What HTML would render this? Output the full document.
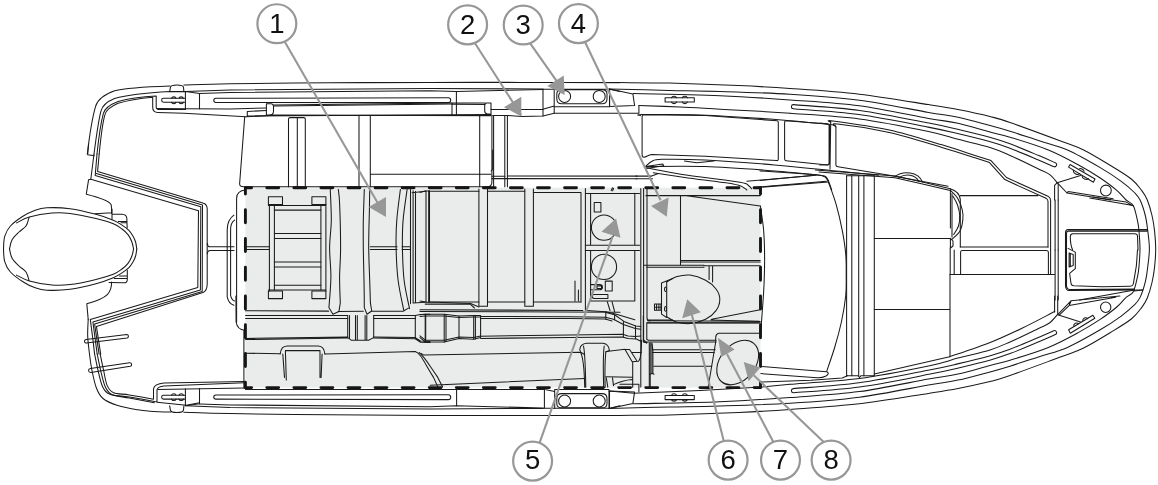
<!DOCTYPE html>
<html><head><meta charset="utf-8"><title>Boat layout</title>
<style>
html,body{margin:0;padding:0;background:#fff;}
svg{display:block;will-change:transform;}
.l{fill:none;stroke:#1a1a1a;stroke-width:1.05;stroke-linecap:round;stroke-linejoin:round;}
.so{fill:none;stroke:#1a1a1a;stroke-width:5.2;stroke-linecap:round;}
.si{fill:none;stroke:#fff;stroke-width:3.1;stroke-linecap:round;}
.d{fill:none;stroke:#151515;stroke-width:2.9;stroke-linecap:round;}
.c{fill:#fff;stroke:#979797;stroke-width:2.2;}
.ld{fill:none;stroke:#979797;stroke-width:2.1;}
.ah{fill:#979797;stroke:none;}
text{font-family:"Liberation Sans",sans-serif;font-size:27.5px;fill:#111;text-anchor:middle;}
</style></head>
<body>
<svg width="1158" height="485" viewBox="0 0 1158 485">
<!-- ZONE -->
<rect x="245.4" y="187.7" width="515.1" height="199.9" fill="#eaecec"/>
<!-- HULL -->
<g id="hull">
<path class="l" d="M3.5,249C3.7,246.9 3.5,240.2 4.7,236.4C5.9,232.6 7.4,229.3 10.4,226C13.4,222.7 18.5,219.1 22.5,216.5C26.5,213.9 30.6,211.8 34.6,210.4C38.6,209 40.9,208.1 46.8,207.8C52.7,207.5 61.8,207.6 70,208.7C78.2,209.8 88.8,212.4 96,214.3C103.2,216.2 109,218.5 113.3,220.3C117.6,222.1 119.4,223.4 122,225.1C124.6,226.8 127,228.4 128.9,230.3C130.8,232.2 132.1,234.5 133.2,236.4C134.3,238.3 135,239.9 135.6,242C136.2,244.1 136.6,247.8 136.8,249"/>
<path class="l" d="M3.5,249C3.7,251.1 3.5,257.8 4.7,261.6C5.9,265.4 7.4,268.7 10.4,272C13.4,275.3 18.5,278.9 22.5,281.5C26.5,284.1 30.6,286.2 34.6,287.6C38.6,289 40.9,289.9 46.8,290.2C52.7,290.5 61.8,290.4 70,289.3C78.2,288.2 88.8,285.6 96,283.7C103.2,281.8 109,279.5 113.3,277.7C117.6,275.9 119.4,274.6 122,272.9C124.6,271.2 127,269.6 128.9,267.7C130.8,265.8 132.1,263.5 133.2,261.6C134.3,259.7 135,258.1 135.6,256C136.2,253.9 136.6,250.2 136.8,249"/>
<path class="l" d="M16.5,222.9C18.6,221.9 23.5,218.7 29.4,217C35.3,215.3 45.1,213.6 51.9,213C58.7,212.4 62.6,212.5 70,213.4C77.3,214.3 88.8,216.9 96,218.6C103.2,220.3 109,222.1 113.3,223.8C117.6,225.5 119.5,227.2 122,229C124.5,230.8 126.3,232.4 128,234.6C129.7,236.8 131,239.6 131.9,242C132.8,244.4 133.3,247.8 133.6,249"/>
<path class="l" d="M16.5,275.1C18.6,276.1 23.5,279.3 29.4,281C35.3,282.7 45.1,284.4 51.9,285C58.7,285.6 62.6,285.5 70,284.6C77.3,283.7 88.8,281.1 96,279.4C103.2,277.7 109,275.9 113.3,274.2C117.6,272.5 119.5,270.8 122,269C124.5,267.2 126.3,265.6 128,263.4C129.7,261.2 131,258.4 131.9,256C132.8,253.6 133.3,250.2 133.6,249"/>
<path class="l" d="M29.1,217.3C28.6,218.8 27.7,223.6 26,226C24.3,228.4 21.3,229.7 19,232C16.7,234.3 13.7,237 12.1,239.8C10.5,242.6 9.9,247.5 9.5,249"/>
<path class="l" d="M29.1,280.7C28.6,279.2 27.7,274.4 26,272C24.3,269.6 21.3,268.3 19,266C16.7,263.7 13.7,261 12.1,258.2C10.5,255.4 9.9,250.5 9.5,249"/>
<path class="l" d="M95.1,213.7L112,212.8M112,209L112,219.3M112.9,214.3L122,214.3C125.5,214.6 126.7,216 126.8,218.2L127.2,227.7M118.5,221.4L127.1,221.6M121,222.8L127.1,222.8"/>
<path class="l" d="M127.3,270.2L127.3,279.4C127.3,281.6 126.1,282.8 123.8,282.8L109.1,282.5M119.5,275.9L127.3,275.9M114.3,278.5L127.3,278.5"/>
<path class="l" d="M87.3,154C89.5,135.8 93,115 95.6,106.4C97.3,100.3 102.5,95.1 114.6,90.8C125,88.2 149.3,86.8 170,86.1"/>
<path class="l" d="M169.7,91.6L170.4,87.3C170.7,85.6 172.6,84.9 177,84.9C181.3,84.9 183.2,85.6 183.5,87.3L183.9,91.6"/>
<path class="l" d="M169.7,405.8L170.4,410.1C170.7,411.8 172.6,412.5 177,412.5C181.3,412.5 183.2,411.8 183.5,410.1L183.9,405.8"/>
<path class="l" d="M94,154C95.9,139.3 98.2,122 100.8,111.6C102.2,105.5 106,102 114.6,98.6C125,95.6 145.8,92.9 170,91.6L185.6,91.6"/>
<path class="l" d="M97,154C98.5,139.3 101,122 103.4,113.3C104.6,109 107.7,105.5 118.1,101.5C128.5,98.6 142.3,96.8 156.2,96L156.2,107.2C156.2,109 157.1,109.5 159.7,109.5L185.6,109.5"/>
<path class="l" d="M99.2,154C100.6,139.3 102.7,122 105.1,114.2C106,110.7 109.4,107.2 118.1,103.3C128.5,100 142.3,98.1 152.7,97.2L152.7,107.2C152.7,110.7 154.5,112.4 157.9,112.4L183.9,113.3L246.2,116.8"/>
<path class="l" d="M88.6,144L87.7,154.7L94.3,155.8"/>
<path class="l" d="M90.8,179.2L88.6,179.7L86.3,194.2C101.6,198 109.4,201.2 111.1,204.6C111.8,207.2 111.6,210.7 111.6,213.3"/>
<path class="l" d="M94,154L90.8,179.2L198.5,210.7L197.8,287.4L90.3,319.4L92.9,339.4L94.6,354.1"/>
<path class="l" d="M97,154L95.2,175.5L200.8,206.7L200.4,290L92.9,322L97.2,354.1"/>
<path class="l" d="M96.4,173.4L202.5,205L202.2,291.6L94.6,324.1L99.1,354.1"/>
<path class="l" d="M99.2,154L97.6,171.4L202.9,202.9C206.3,203.8 207.2,205.5 207.2,208.9L207.2,283.9C207.2,287.4 206.3,290.9 202.9,292.6L96.4,326.4L100.7,354.1"/>
<path class="l" d="M207.2,243.6C207.5,245.8 208.2,246.8 210,246.8L234,246.8M207.2,253.6C207.5,251.4 208.2,250.4 210,250.4L234,250.4"/>
<path class="l" d="M86,339.6L126.7,334.4C128.9,334.4 128.9,337.5 127.2,337.9L86.3,343.1C83.9,343.1 83.9,340 86,339.6Z"/>
<path class="l" d="M183.9,85C191.6,84.8 205.7,84.2 230,83.8C254.3,83.4 296.7,83 330,82.8C363.3,82.6 398.3,82.5 430,82.4C461.7,82.3 488.3,82.4 520,82.4C551.7,82.4 603.3,82.6 620,82.6"/>
<path class="l" d="M183.9,412.2C191.6,412.4 205.7,413.2 230,413.6C254.3,414 296.7,414.5 330,414.8C363.3,415.1 398.3,415.3 430,415.4C461.7,415.5 488.3,415.5 520,415.5C551.7,415.5 603.3,415.4 620,415.4"/>
<path class="l" d="M185.6,91.6L230,89.9L430,88.5L543,89"/>
<path class="l" d="M185.6,405.8L230,407.5L430,408.9L543,408.4"/>
<path class="l" d="M185.4,91.6L185.4,108.6M185.6,91.6L199.5,93.6L199.5,108.8"/>
<path class="l" d="M185.4,405.8L185.4,388.8M185.6,405.8L199.5,403.8L199.5,388.6"/>
<path class="l" d="M199.5,93.4L230,92.5L430,90.7L456.4,91.6L543,89.4"/>
<path class="l" d="M199.5,404L230,404.9L430,406.7L456.4,405.8L543,408"/>
<path class="l" d="M163.5,98.3L184.8,98.3M184.8,102.2L163.5,102.2C161,102.2 161,98.3 163.5,98.3"/>
<path class="l" d="M163.5,399.1L184.8,399.1M184.8,395.2L163.5,395.2C161,395.2 161,399.1 163.5,399.1"/>
<path class="l" d="M171.6,98.3C172,96.4 175.6,96.4 176,98.3M179,98.3C179.4,96.4 183,96.4 183.4,98.3M171.6,102.2C172,104.2 175.6,104.2 176,102.2M179,102.2C179.4,104.2 183,104.2 183.4,102.2"/>
<path class="l" d="M171.6,399.1C172,401 175.6,401 176,399.1M179,399.1C179.4,401 183,401 183.4,399.1M171.6,395.2C172,393.2 175.6,393.2 176,395.2M179,395.2C179.4,393.2 183,393.2 183.4,395.2"/>
<path class="l" d="M216,98.3L448.3,97.8C451.5,97.8 451.5,102.6 448.3,102.6L216,102.4C213,102.4 213,98.3 216,98.3Z"/>
<path class="l" d="M216,399.1L448.3,399.6C451.5,399.6 451.5,394.8 448.3,394.8L216,395C213,395 213,399.1 216,399.1Z"/>
<path class="l" d="M157,108.6L185,108.7L230,108.9L266.4,108"/>
<path class="l" d="M266.4,110.4L247.3,111.5L247.3,116"/>
<path class="l" d="M246.2,116.8L270,115.6"/>
<path class="l" d="M266.4,103.7L271,103.7C273,103.7 273.5,105 273.5,107L273.5,111C273.5,113.5 272,115 270,115L266.4,115Z"/>
<path class="l" d="M273.5,104.9L452,102.9L485,102.9M452,104.3L485,104.6"/>
<path class="l" d="M273.5,105.9L452,104.1"/>
<path class="l" d="M247.3,115.9L491,114.4M270,115L491,115.6"/>
<path class="l" d="M491,102.9L486.5,102.9C485,102.9 484.7,104 484.7,105.5L484.7,111C484.7,113 485.5,113.6 487,113.8L491,114.2Z"/>
<path class="l" d="M456.4,91.6L456.4,115M452,102.9L452,115"/>
<path class="l" d="M491,109.5L543,109.5M492.7,115.4L506.6,115.4L522.2,116.4L543,115.9L554.2,113.3L620,113.3"/>
<path class="l" d="M543,89.4L543,115.9M543.8,109L554.2,106M554.2,89L554.2,113.3M554.2,106.4L609.6,106.7M609.6,89L609.6,106.7L554.2,106.4"/>
<path class="l" d="M543,89.2L609.6,89.2L620,91.6"/>
<path class="l" d="M543,408.2L609.6,408.2L620,405.8"/>
<path class="l" d="M561.8,89.6L602,89.6C605.5,89.6 607,91.5 607,94L607,99C607,102 605.5,103.8 602,103.8L561.8,103.8C558.3,103.8 556.8,102 556.8,99L556.8,94C556.8,91.5 558.3,89.6 561.8,89.6Z"/>
<path class="l" d="M561.8,407.8L602,407.8C605.5,407.8 607,405.9 607,403.4L607,398.4C607,395.4 605.5,393.6 602,393.6L561.8,393.6C558.3,393.6 556.8,395.4 556.8,398.4L556.8,403.4C556.8,405.9 558.3,407.8 561.8,407.8Z"/>
<circle class="l" cx="564.6" cy="96.4" r="6"/>
<circle class="l" cx="564.6" cy="401" r="6"/>
<circle class="l" cx="599.2" cy="96.4" r="6"/>
<circle class="l" cx="599.2" cy="401" r="6"/>
<path class="l" d="M244.7,116.7L239.6,184C239.8,186 241,186.7 243.5,186.7L491,186.7"/>
<path class="l" d="M288.5,186.7L288.5,119C288.5,118 289.2,117.6 290.2,117.6L303.8,117.6C304.8,117.6 305.3,118 305.3,119L305.3,186.7M297.3,117.6L297.3,186.7"/>
<path class="l" d="M359,115.6L359,186.7M370.3,115.6L370.3,186.7M370.3,174.2L479.7,174.2"/>
<path class="l" d="M479.7,115.6L479.7,186.7M491.9,115.4L491.9,182C491.9,185 490,186.7 487,186.7M493.6,115.4L493.6,186.7M504.8,115.4L504.8,186.7M507.4,115.4L507.4,186.7"/>
<path class="l" d="M245.6,190.1C238.9,190.7 236.6,193.4 236.6,198.4L236.6,322"/>
<path class="l" d="M233.9,215.1C228.9,218.5 227.2,223.5 227.2,230.1L227.2,296.9C228.3,302 230.6,304.3 233.9,305.3M234.6,220.1C231.6,221.8 230.6,225.1 230.6,230.1L230.6,295.3C231.3,298.6 232.3,300.3 234.6,301"/>
<path class="l" d="M245,246.7L269.4,246.7M245,249.4L269.4,249.4M370.4,246.7L397.1,246.7M370.4,249.4L397.1,249.4M402.1,246.7L410.5,246.7M402.1,249.4L410.5,249.4"/>
<path class="l" d="M268.4,196.7L282.5,196.7L282.5,204.4L268.4,204.4ZM311.9,196.7L325.9,196.7L325.9,204.4L311.9,204.4ZM268.4,290.9L282.5,290.9L282.5,298.6L268.4,298.6ZM311.9,290.9L325.9,290.9L325.9,298.6L311.9,298.6Z"/>
<path class="l" d="M269.4,204.4L269.4,290.9M325.9,204.4L325.9,290.9M274.4,205.4L274.4,290.2M320.9,205.4L320.9,290.2M268.4,205.4L325.9,205.4M268.4,289.9L325.9,289.9"/>
<path class="l" d="M274.4,210.1L320.9,210.1M274.4,233.5L320.9,233.5M274.4,238.5L320.9,238.5M274.4,261.9L320.9,261.9M274.4,266.9L320.9,266.9M274.4,285.2L320.9,285.2"/>
<path class="l" d="M330.3,189.4C330.4,194.5 331.4,210.4 331.3,220.1C331.2,229.8 329.7,238 329.6,247.5C329.5,256.9 331,266.9 330.9,276.9C330.8,286.9 329.3,302.5 328.9,307.6L332.9,314.3L338.9,311.6L340.3,302.9C340.2,298.6 339.5,286.1 339.6,276.9C339.7,267.6 340.6,259.8 340.6,247.5C340.6,235.2 340,213.1 339.6,203.4C339.2,193.7 338.5,191.7 338.3,189.4"/>
<path class="l" d="M364.3,189.4C364.2,194.5 363.5,210.4 363.3,220.1C363.2,229.8 363.2,237.5 363.3,247.5C363.4,257.5 363.8,270.2 364,280.2C364.2,290.2 364.3,303 364.3,307.6L367,314.3L371.7,311L370.4,302.9C370.3,299.2 370,289.5 369.7,280.2C369.4,271 368.8,259.2 368.7,247.5C368.6,235.8 369.2,219.8 369.4,210.1C369.5,200.4 369.6,192.8 369.7,189.4"/>
<path class="l" d="M400.4,189.4C399.8,194.5 397.5,210.4 396.8,220.1C396,229.8 395.9,237.5 396.1,247.5C396.3,257.5 396.8,269.8 398.1,280.2C399.4,290.7 402.8,305.3 403.8,310.3"/>
<path class="l" d="M407.1,189.4C406.5,194.5 403.9,210.4 403.1,220.1C402.3,229.8 402.3,237.5 402.4,247.5C402.6,257.5 402.9,270 404.1,280.2C405.3,290.4 408.6,303.9 409.5,308.6"/>
<path class="l" d="M479.7,174.2L491,174.2M492.7,150L492.7,169L491.2,171M491.9,176.3L504.8,176.3M507.4,176L637,176.1M491.9,178.6L637,178.7"/>
<path class="l" d="M412.1,192.7L429.5,190.7M410.5,189.4L410.5,303.6M413.1,190.7L413.1,302.9M415.5,191.4L415.5,302.3M429.5,190.7L429.5,301.9M413.1,302.9L429.5,301.9L470.6,303.6L479,306.9"/>
<path class="l" d="M426,190.8L426,301.9M428.7,191.2L428.7,301.9M420,192.4L426,190.8"/>
<path class="l" d="M478.9,189L478.9,306.2L487.5,306.2L487.5,189"/>
<path class="l" d="M524.8,189L524.8,306.2L533.4,306.2L533.4,189"/>
<path class="l" d="M428.7,191.3L478.9,191.3M487.5,191.3L524.8,191.3M533.4,192.4L581,192.4L581,301.9"/>
<path class="l" d="M428.7,301.9L478.9,301.9M487.5,301.9L524.8,301.9M533.4,301.9L581,301.9"/>
<path class="l" d="M575,281L575,301M578.4,290L578.4,301"/>
<path class="l" d="M420,301L426,301.9M425.2,304.1L470.2,304.1L474.5,308M420,309.7L582.8,310.5M420,311.4L620,312.3"/>
<path class="l" d="M585.4,188.5L585.4,310.5M590.6,193.4L590.6,244.8M590.6,250.4L590.6,301M585.4,193.4L639.5,193.4"/>
<path class="l" d="M585.4,245.2L639.5,245.2M585.4,250.4L639.5,250.4M590.6,301L634.8,301M634.8,193.3L634.8,245.2M634.8,250.4L634.8,301"/>
<path class="l" d="M640.8,188.5L640.8,387M643.6,188.5L643.6,341.6L646.7,343"/>
<circle class="l" cx="604" cy="227.6" r="12.6"/>
<circle class="l" cx="604" cy="266.9" r="12.6"/>
<path class="l" d="M594.2,202.4L600.9,202.4L600.9,212L594.2,212Z"/>
<path class="l" d="M605.3,281.1L612.2,281.1L612.2,291L605.3,291Z"/>
<path class="l" d="M590.6,284.6L599.5,284.6C603.5,284.6 603.5,289.7 599.5,289.7L590.6,289.7M594.5,284.6L594.5,289.7M597,286L601.5,286L601.5,288.4L597,288.4Z"/>
<path class="l" d="M594.3,294.4L607.9,294.4L607.9,298.4L594.3,298.4C591.6,298.4 591.6,294.4 594.3,294.4Z"/>
<path class="l" d="M235.9,296L236.1,322C236.9,327.2 239.5,329.8 244.7,330.3M243.9,330.3L243.9,387.8"/>
<path class="l" d="M245.6,310.7L328.7,311.1M338.2,311.6L363.3,311.2M372,311.2L403.2,311.2L408.4,308.1"/>
<path class="l" d="M245.6,315.4L347.7,315.4M245.6,318.5L347.7,318.5M373.7,315.4L415.3,315.4L420.5,314.4L430,314.2M373.7,318.5L415.3,318.5"/>
<path class="l" d="M347.7,315.4L347.7,337.6L351.2,340.2L368.5,340.2L373.7,337.6L373.7,315.4M349.5,315.4L349.5,338.1M355.5,315.4L355.5,340.2M357.3,315.4L357.3,340.2M365.1,315.4L365.1,340.2M366.8,315.4L366.8,340.2"/>
<path class="l" d="M245.6,338.4L347.7,336.9M245.6,339.6L347.7,338.1M373.7,336.9L415.3,337.6L420.5,341L430,341.4M373.7,338.1L415.3,338.8L420.5,342.2L430,342.6"/>
<path class="l" d="M415.3,315.4L415.3,338.8M425.7,314.2L425.7,341.9"/>
<path class="l" d="M280.2,354C281.1,348 282.8,346.2 287.1,345.9L318.3,345.9C322.6,346.2 324.4,348.8 324.9,354M285.4,350.6L320,350.6M282.8,354L284.5,377.4M285.4,351.1L286.3,380M320,351.1L320,377.4M322.1,354L321.1,377.4"/>
<path class="l" d="M245.6,353.2L280.2,353.7M324.9,354L415.3,351.4C420.5,353.2 423.9,361.8 433.5,377.4L437.8,386.9M419.1,352.5C423.1,354.9 426.5,360.9 437.8,377.4L442.6,386.9"/>
<path class="l" d="M420,314.7L425.2,314.2L444.2,314.2L459,315.9L473.7,315.4L480.6,315.4L480.6,337.6L473.7,339.3L459,338.4L444.2,341.9L425.2,341.9L420,337.6"/>
<path class="l" d="M420,316.4L425.2,315.9L444.2,315.9L459,317.5L473.7,317L480.6,317M420,335.8L425.2,340.2L444.2,340.2L459,336.9L473.7,337.6L480.6,336"/>
<path class="l" d="M425.2,314.2L425.2,341.9M444.2,314.2L444.2,341.9M446,314.4L446,341.6M459,315.9L459,338.4M473.7,315.4L473.7,339.3M475.4,315.4L475.4,339"/>
<path class="l" d="M421.5,353.6L423.5,354.9L579.3,352.3"/>
<path class="l" d="M647,189L647,318C647,320 648,320.9 650,320.9M645.9,195.6L760.2,195.6M680.5,195.6L680.5,264.7M684.8,195.6L760.2,206"/>
<path class="l" d="M680.5,260.4L760.2,260.4M680.5,262L760.2,262"/>
<path class="l" d="M644.2,265.2L704,265.2M646.8,267.3L704,267.3M704,265.8L760.2,265.8M709.1,266.5L709.1,279.5M712.6,266.5L712.6,282"/>
<path class="l" d="M760.4,206C760.9,210 762.9,221.8 763.6,230C764.3,238.2 764.5,245.8 764.6,255C764.7,264.2 764.4,275 764,285C763.6,295 762.6,306.7 762,315C761.4,323.3 760.7,331.7 760.4,335"/>
<path class="l" d="M666.7,282C668.3,281.2 672.3,278 676.2,276.8C680.1,275.7 685.1,274.5 690,275.1C694.9,275.7 701.3,278 705.6,280.3C710,282.6 713.6,285.8 716,289C718.4,292.1 719.8,295.8 719.8,299.4C719.8,303 718.4,307.3 716,310.6C713.6,313.9 710,317.1 705.6,319.3C701.3,321.4 694.9,323.2 690,323.6C685.1,324 680.1,323 676.2,321.9C672.3,320.7 668.3,317.5 666.7,316.7"/>
<path class="l" d="M666.7,282L666.7,316.7M672.7,278.6L661.5,282.9L661.5,314.1L666.7,317.5"/>
<ellipse class="l" cx="665.5" cy="289.3" rx="1" ry="2.4" transform="rotate(0 665.5 289.3)"/>
<ellipse class="l" cx="665.5" cy="308.9" rx="1" ry="2.4" transform="rotate(0 665.5 308.9)"/>
<path class="l" d="M654.5,304L661,304L661,310.3L654.5,310.3ZM656.6,304L656.6,310.3M658.9,304L658.9,310.3M654.5,307.2L661,307.2"/>
<path class="l" d="M711.7,319.3L760.2,309.8M647.6,320.1L672.7,320.1M710.8,320.1L760.2,321.4M646.8,322.7L760.2,322.7"/>
<path class="l" d="M646.8,322.9L759.3,322.9M647.6,320.8L759.3,321.2M643.3,316L643.3,342L646.8,342.8M646.8,323.8L646.8,339.4L648.5,340.2L716,340.2M645.9,342L716,342"/>
<path class="l" d="M759.3,333.3L718.6,333.3C716.4,334 715.7,335.7 715.7,337.6L715.7,342L708.2,387"/>
<path class="l" d="M650.2,342.8L650.2,387M651.9,343.7L651.9,373.2L654,374.2M651.9,349.8L715.2,349.8M651.9,352.4L714.3,352.4M653.7,366.2L711.7,366.2"/>
<ellipse class="l" cx="737.7" cy="362.6" rx="25" ry="17.5" transform="rotate(-50 737.7 362.6)"/>
<path class="l" d="M620,82.6C628.2,82.7 649.2,82.6 669,83.1C688.8,83.6 718.3,84.7 738.5,85.6C758.7,86.5 769.9,87.1 790,88.5C810.1,89.9 836.2,91.5 859.3,94.2C882.4,96.9 912,102 928.5,104.6C945,107.1 947.8,107.5 958,109.5C968.2,111.5 981.3,114.3 990,116.5C998.7,118.7 998,118.3 1010,122.5C1022,126.7 1049.6,136.9 1061.9,141.5C1074.2,146.1 1075.5,146 1083.6,150C1091.7,154 1102.5,160.7 1110.5,165.5C1118.5,170.3 1126.1,174.8 1131.3,179C1136.5,183.2 1138.9,186.9 1141.6,190.4C1144.3,193.9 1145.6,195.8 1147.3,200C1149,204.2 1150.8,210.3 1152,215.5C1153.2,220.7 1154,225.5 1154.6,231.1C1155.2,236.7 1155.7,243 1155.7,249C1155.7,254.9 1155.2,261.3 1154.6,266.9C1154,272.4 1153.2,277.3 1152,282.5C1150.8,287.6 1149,293.8 1147.3,298C1145.6,302.1 1144.3,304.1 1141.6,307.6C1138.9,311.1 1136.5,314.8 1131.3,319C1126.1,323.1 1118.5,327.6 1110.5,332.5C1102.5,337.3 1091.7,344 1083.6,348C1075.5,352 1074.2,351.9 1061.9,356.5C1049.6,361 1022,371.3 1010,375.5C998,379.6 998.7,379.3 990,381.5C981.3,383.6 968.2,386.5 958,388.5C947.8,390.4 945,390.8 928.5,393.4C912,395.9 882.4,401.1 859.3,403.8C836.2,406.4 810.1,408 790,409.5C769.9,410.9 758.7,411.5 738.5,412.4C718.3,413.3 688.8,414.4 669,414.9C649.2,415.4 628.2,415.3 620,415.4"/>
<path class="l" d="M609.3,89C619.3,89.2 650.8,90 669.3,90.4C687.8,90.8 699.9,90.9 720,91.5C740.1,92.1 766.8,92.8 790,94.2C813.2,95.7 836.2,97.2 859.3,100.2C882.4,103.2 912,109.6 928.5,112.4C945,115.2 947.8,115.1 958,117.3C968.2,119.5 981.3,123.2 990,125.5C998.7,127.8 1001.7,128.6 1010,131.2C1018.3,133.8 1030.4,137.9 1040,141C1049.6,144.1 1057.5,145.6 1067.5,150C1077.5,154.4 1091.3,162.4 1100.2,167.6C1109.1,172.8 1115.2,176.9 1120.9,181.1C1126.6,185.2 1131.2,189.3 1134.4,192.5C1137.6,195.7 1138.3,196.2 1140.1,200C1141.9,203.8 1144,210.3 1145.3,215.5C1146.6,220.7 1147.1,225.6 1147.8,231.1C1148.5,236.6 1149.4,242.8 1149.4,248.7C1149.4,254.6 1148.5,260.8 1147.8,266.3C1147.1,271.8 1146.6,276.7 1145.3,281.9C1144,287.1 1141.9,293.6 1140.1,297.4C1138.3,301.2 1137.6,301.8 1134.4,304.9C1131.2,308 1126.6,312.1 1120.9,316.3C1115.2,320.4 1109.1,324.6 1100.2,329.8C1091.3,335 1077.5,343 1067.5,347.4C1057.5,351.8 1049.6,353.3 1040,356.4C1030.4,359.5 1018.3,363.6 1010,366.2C1001.7,368.8 998.7,369.6 990,371.9C981.3,374.2 968.2,377.9 958,380.1C947.8,382.3 945,382.1 928.5,385C912,387.9 882.4,394.2 859.3,397.2C836.2,400.2 813.2,401.8 790,403.2C766.8,404.6 740.1,405.3 720,405.9C699.9,406.5 687.8,406.6 669.3,407C650.8,407.4 619.3,408.2 609.3,408.4"/>
<path class="l" d="M633.2,93.6C647.7,93.9 693.9,94.7 720,95.7C746.1,96.8 766.8,98.2 790,99.9C813.2,101.6 836.2,102.7 859.3,105.8C882.4,108.9 912,115.5 928.5,118.4C945,121.3 947.8,121 958,123.3C968.2,125.6 981.3,129.7 990,132C998.7,134.3 1000.3,134.2 1010,137.2C1019.7,140.2 1036.8,145.3 1048.4,150C1060,154.7 1070.9,160.8 1079.5,165.5C1088.1,170.2 1094,173.8 1100.2,178C1106.4,182.2 1112.5,186.7 1116.8,190.4C1121.1,194.1 1123.3,197.4 1126.1,200C1128.8,202.6 1131.4,202.2 1133.3,205.7C1135.2,209.1 1136.5,216.5 1137.5,220.7C1138.5,224.9 1138.6,226.4 1139,231.1C1139.4,235.8 1140,242.8 1140,248.7C1140,254.6 1139.4,261.6 1139,266.3C1138.6,271 1138.5,272.5 1137.5,276.7C1136.5,280.9 1135.2,288.2 1133.3,291.7C1131.4,295.1 1128.8,294.8 1126.1,297.4C1123.3,299.9 1121.1,303.3 1116.8,307C1112.5,310.7 1106.4,315.2 1100.2,319.4C1094,323.5 1088.1,327.2 1079.5,331.9C1070.9,336.6 1060,342.7 1048.4,347.4C1036.8,352.1 1019.7,357.2 1010,360.2C1000.3,363.2 998.7,363.1 990,365.4C981.3,367.7 968.2,371.8 958,374.1C947.8,376.4 945,376.1 928.5,379C912,381.9 882.4,388.5 859.3,391.6C836.2,394.7 813.2,395.8 790,397.5C766.8,399.2 746.1,400.6 720,401.7C693.9,402.8 647.7,403.4 633.2,403.8"/>
<path class="so" d="M793.5,106.7C804.5,107.7 836.8,109.4 859.3,112.5C881.8,115.6 912,121.9 928.5,125.1C945,128.3 947.8,129.1 958,131.5C968.2,133.9 981.3,137.1 990,139.5C998.7,141.9 1002,143 1010,146C1018,149 1030.6,154.4 1038,157.5C1045.4,160.6 1051.8,163.5 1054.5,164.7"/>
<path class="si" d="M793.5,106.7C804.5,107.7 836.8,109.4 859.3,112.5C881.8,115.6 912,121.9 928.5,125.1C945,128.3 947.8,129.1 958,131.5C968.2,133.9 981.3,137.1 990,139.5C998.7,141.9 1002,143 1010,146C1018,149 1030.6,154.4 1038,157.5C1045.4,160.6 1051.8,163.5 1054.5,164.7"/>
<path class="so" d="M793.5,390.7C804.5,389.7 836.8,388 859.3,384.9C881.8,381.8 912,375.5 928.5,372.3C945,369.1 947.8,368.3 958,365.9C968.2,363.5 981.3,360.3 990,357.9C998.7,355.5 1002,354.4 1010,351.4C1018,348.4 1030.6,343 1038,339.9C1045.4,336.8 1051.8,333.9 1054.5,332.7"/>
<path class="si" d="M793.5,390.7C804.5,389.7 836.8,388 859.3,384.9C881.8,381.8 912,375.5 928.5,372.3C945,369.1 947.8,368.3 958,365.9C968.2,363.5 981.3,360.3 990,357.9C998.7,355.5 1002,354.4 1010,351.4C1018,348.4 1030.6,343 1038,339.9C1045.4,336.8 1051.8,333.9 1054.5,332.7"/>
<path class="l" d="M790,113.2C801.5,114.2 836.2,115.9 859.3,118.9C882.4,121.9 912,128 928.5,131.4C945,134.8 947.8,136.6 958,139.3C968.2,142 981.3,144.8 990,147.5C998.7,150.2 1002,151.9 1010,155.4C1018,158.9 1031.4,165.5 1038,168.7C1044.6,171.9 1046.2,172.1 1049.4,174.4C1052.6,176.7 1055.9,181.2 1057.2,182.6"/>
<path class="l" d="M790,384.2C801.5,383.2 836.2,381.5 859.3,378.5C882.4,375.5 912,369.4 928.5,366C945,362.6 947.8,360.8 958,358.1C968.2,355.4 981.3,352.6 990,349.9C998.7,347.2 1002,345.5 1010,342C1018,338.5 1031.4,331.9 1038,328.7C1044.6,325.5 1046.2,325.3 1049.4,323C1052.6,320.7 1055.9,316.2 1057.2,314.8"/>
<path class="l" d="M609.5,89L609.5,106.4L634.6,105.5L632.9,94L609.5,89M620,113.2L638.9,113.2L638.9,105.5"/>
<path class="l" d="M609.5,408.4L609.5,391L634.6,391.9L632.9,403.4L609.5,408.4M620,384.2L638.9,384.2L638.9,391.9"/>
<path class="l" d="M638.9,105.5C645.8,105.8 666.5,106.4 680,107C693.5,107.6 706.7,108.5 720,109.2C733.3,109.9 748.3,110.6 760,111.3C771.7,112 785,112.9 790,113.2"/>
<path class="l" d="M640.7,115.6C641,115.4 632.6,114.7 642.5,114.6C652.4,114.5 677.3,114.1 700,114.9C722.7,115.8 757.1,118.1 778.7,119.7C800.3,121.3 820.4,123.6 829.8,124.5C839.2,125.4 834.1,125.2 835,125.3"/>
<path class="l" d="M761.7,387L790,384.2"/>
<path class="l" d="M665.1,97.8L694.3,97.8L694.3,101.9L665.1,101.9Z"/>
<path class="l" d="M665.1,399.6L694.3,399.6L694.3,395.5L665.1,395.5Z"/>
<path class="l" d="M671.5,97.8C672,95.8 676,95.8 676.6,97.8M682.3,97.8C682.8,95.8 686.8,95.8 687.4,97.8M671.5,101.9C672,104.2 676,104.2 676.6,101.9M682.3,101.9C682.8,104.2 686.8,104.2 687.4,101.9"/>
<path class="l" d="M671.5,399.6C672,401.6 676,401.6 676.6,399.6M682.3,399.6C682.8,401.6 686.8,401.6 687.4,399.6M671.5,395.5C672,393.2 676,393.2 676.6,395.5M682.3,395.5C682.8,393.2 686.8,393.2 687.4,395.5"/>
<path class="l" d="M1070.1,164.5L1095,179L1093.4,182.2L1068.6,167.1Z"/>
<path class="l" d="M1073.2,170.2C1073.2,173.9 1077.9,175.4 1079.5,173.7M1082,175.4C1082,179 1086.7,180.6 1088.3,178.5M1079.5,168.7C1081.5,168.2 1083.6,169.7 1084.1,171.3"/>
<path class="l" d="M1057.2,182.7L1080.5,175.4"/>
<circle class="l" cx="1105.9" cy="190.5" r="5.4"/>
<path class="l" d="M1057.2,182.7L1067,193L1110.5,200M1068.1,191.5L1113.1,198.8M1067,193L1068.1,191.5"/>
<path class="l" d="M1089.8,198.1L1128.7,204.7L1133.3,205.7M1092.9,196.9L1126.1,202.1L1133.3,205.7"/>
<path class="l" d="M1054.6,185.3L1054.6,200M1058.2,183.7L1058.2,200M1054.6,185.3L1057.2,182.7"/>
<path class="l" d="M1055.1,200L1055.1,250M1058.2,200L1058.2,250"/>
<path class="l" d="M1055.1,250L1055.1,300M1058.2,250L1058.2,300"/>
<path class="l" d="M1054.6,296L1054.6,312.1M1057.7,296L1057.7,314.5"/>
<path class="l" d="M1147.3,229.6L1068.1,229.6C1066,229.8 1065.5,230.6 1065.5,232.7L1065.5,250M1147.3,231.1L1068.6,231.1C1067,231.3 1066.5,232 1066.5,233.2L1066.5,250M1147.3,229.6L1147.3,231.1"/>
<path class="l" d="M1065.5,250L1065.5,286.3C1065.8,289.4 1067,290.5 1069.1,290.5L1142.7,289.9M1066.5,250L1066.5,285.8C1066.8,288.6 1067.8,289.4 1069.6,289.4L1134.4,289.1"/>
<path class="l" d="M1138,250L1137.5,235.8C1137.3,234.2 1136.4,233.7 1134.9,233.7L1072.7,233.7C1071,233.9 1070.3,234.8 1070.3,236.3C1070.3,243.6 1071,246.7 1072.7,250"/>
<path class="l" d="M1137.5,250L1136.4,265.6L1133.3,284.2C1132.8,285.8 1131.8,286.3 1130.2,286.3L1102.2,286.8L1073.8,285.8C1071.7,285.6 1071.2,284.8 1071,283.2L1069.6,273.3L1075.3,268.7L1075.3,252.1L1068.1,248.4"/>
<path class="l" d="M1069.1,253.1L1073.2,254.4L1073.2,265.6L1069.1,267.1ZM1070.3,253.6L1070.3,266.6"/>
<path class="l" d="M1134.4,289.9L1079.5,300M1142.7,289.9L1134.4,291"/>
<path class="l" d="M1071.2,300.7L1119.9,296M1071.2,300.7L1057.7,314.7M1069.1,305.5L1115.7,297.2M1069.1,305.5L1059.2,315.2M1071.2,300.7L1069.1,305.5"/>
<path class="l" d="M1057.7,314.7L1080.5,321.9"/>
<path class="l" d="M1068.6,329.7L1092.9,315.2L1094.8,318.3L1070.3,333.3Z"/>
<path class="l" d="M1073.8,326.1C1073.2,323.5 1076.9,321.9 1078.6,323.8M1082.8,320.9C1082.4,318.3 1085.9,316.7 1087.7,318.6"/>
<circle class="l" cx="1105.7" cy="307.2" r="5.2"/>
<path class="l" d="M643.8,114.7L705.3,115.5L777.1,120.7C778.3,120.9 778.3,121.6 778.3,122.6L778.3,158.8C778.3,160 778,160.7 776.6,160.6L705.3,156.2L651.6,154.5C648.1,155 646.4,157.3 643.8,157.3C642.6,157.3 642.1,156.2 642.1,154.5L642.1,116.7C642.1,115.4 642.6,114.7 643.8,114.7Z"/>
<path class="l" d="M786,120.7L827.9,124C828.9,124.2 829.1,124.7 829.1,125.7L829.1,163.2C829.1,164.5 828.6,165.1 827.3,164.9L786,160.7C784.9,160.6 784.6,160 784.6,159L784.6,122.3C784.6,121.1 784.9,120.7 786,120.7Z"/>
<path class="l" d="M645.5,166.6C646.5,165.8 648.8,162.6 651.6,161.4C654.3,160.2 653,159.6 662,159.3C670.9,159.1 686.5,159.1 705.3,160C724,161 752.7,163.1 774.5,164.9C796.3,166.7 818.7,169.2 836,170.9C853.3,172.7 871.4,174.6 878.4,175.3"/>
<path class="l" d="M645.5,166.6L662.8,164L663.7,165.8L646.4,168.4M684.5,161.1L696.6,162.8L713.9,161.1"/>
<path class="l" d="M646.4,166.6C656.2,166.6 683.9,165.9 705.3,166.6C726.6,167.3 756.1,169.6 774.5,170.9C793,172.3 807.7,174.1 816.1,174.9C824.5,175.8 822.8,175.4 824.7,176.1C826.7,176.9 826.7,177.3 827.9,179.6C829,181.9 831,188.3 831.7,190"/>
<path class="l" d="M646.4,167.8C653.3,169.1 672.4,172.9 687.9,175.3C703.5,177.7 729.8,180.5 739.9,182.2C750,183.9 746.6,184.6 748.6,185.7C750.5,186.8 751.2,188.3 751.7,188.8"/>
<path class="l" d="M653.3,172.7C659.1,173.5 674.7,176 687.9,177.9C701.2,179.7 723.7,182.3 733,183.9C742.2,185.5 741.1,186.4 743.4,187.4C745.7,188.4 746.3,189.6 746.8,190"/>
<path class="l" d="M746.8,181.3L816.1,175.3M753.7,187.4L826.5,181.3M636,176.1L651.6,176.1L658.5,173.5M636,178.7L652.5,178.7"/>
<path class="l" d="M835.9,127C836.2,126.5 828.6,123.1 837.5,124C846.4,124.9 872,128.6 889.3,132.5C906.6,136.4 926.9,143 941.2,147.2C955.5,151.4 969.4,156 975,157.8L989.5,162.6L1004.8,179.6L1046.5,198.6C1047.6,199.3 1048,200.3 1048,201.5L1048,247"/>
<path class="l" d="M835.9,126.5L835.9,165.1C836.1,166.3 836.6,166.6 838,166.8L889.3,175.3L948.1,186.2"/>
<path class="l" d="M830.7,122.1L830,168.9M820,123L827.8,123.9C829,124 829.5,124.5 829.5,125.6L829.5,162.8C829.5,164.2 829,164.7 827.8,164.7L820,165.1"/>
<path class="l" d="M830.7,122.2C831.1,122 823.2,119.6 833,120.9C842.8,122.2 871.3,126 889.3,129.9C907.3,133.8 926.9,140.3 941.2,144.6C955.5,148.9 969.4,153.7 975,155.5L991,160.6L1006.5,177.5L1048.5,196.6C1050,197.5 1050.6,198.5 1050.6,200.5L1050.6,274"/>
<path class="l" d="M760,170.9L817.1,174.7C824.1,175.2 827.5,177.8 828.4,182.1L760,187.3M760,180.4L811.9,175.5"/>
<path class="l" d="M828.4,182.1C829.7,185.8 833.9,196.5 836.2,204.6C838.5,212.7 840.7,222.4 842.3,230.6C843.9,238.8 845.1,246.6 845.7,254C846.4,261.4 846.2,268 846.2,275C846.2,282 846.5,288.2 845.7,296C844.9,303.8 843.3,313.3 841.4,322C839.5,330.7 837,339.8 834.5,348C832,356.2 828,367.4 826.7,371.3"/>
<path class="l" d="M815.4,170L895,176L922.5,182.1L950.2,188.7C957,190.8 959.7,194.2 960.3,199.4L960.3,247"/>
<path class="l" d="M819,172L895,177.8L922.5,183.9L950.2,190.5"/>
<path class="l" d="M895,176.5C903,170.5 918,171.5 922.5,182M899,177.6C905,173.5 915.5,174 918.8,181.5"/>
<path class="l" d="M846.6,175.7L846.6,375.7"/>
<path class="l" d="M851.8,175.7L851.8,375.7"/>
<path class="l" d="M858.7,175.7L858.7,375.7"/>
<path class="l" d="M863.9,175.7L863.9,375.7"/>
<path class="l" d="M874.3,175.7L874.3,375.7"/>
<path class="l" d="M846.6,175.7L874.3,175.7M846.6,375.7L858,375.7L859.5,377.5L861,375.7L874.3,375.7"/>
<path class="l" d="M874.3,238.4L950.4,238.4M874.3,309.5L950,309.5M950.4,189L950.4,228M950,274.4L950,356.6M874.3,373.9L949.6,356.8M950.2,248L950.2,274.4M954.2,250L954.2,274.4"/>
<path class="l" d="M951,190.8C952.1,192 955.6,194.8 957.5,198C959.4,201.2 961.4,206.3 962.3,210C963.2,213.7 963.2,216.5 962.8,220C962.4,223.5 961.8,227.8 960,231C958.2,234.2 953.3,237.9 952,239.3"/>
<path class="l" d="M952.8,196C953.6,197.5 956.4,201.8 957.5,205C958.6,208.2 959.5,211.5 959.7,215C959.9,218.5 959.5,222.8 958.5,226C957.5,229.2 954.5,233.1 953.7,234.5"/>
<path class="l" d="M952,193.5L952,237"/>
<path class="l" d="M950.4,238.4L953,241L953,246L950.4,248L950.4,238.4"/>
<path class="l" d="M960.3,195.6L1038,195.6M960.3,247L1048,247M960.6,274.4L960.6,252C960.6,250.8 961.4,250.5 962.5,250.5L1046,250.5C1047.6,250.5 1048.4,251.2 1048.4,252.5L1048.4,274.4M950,274.4L1054.5,274.4"/>
<path class="l" d="M760.9,366.5L826.7,371.8C829,372.5 828.6,374.5 826,376C823,377.6 820,378 817,377.8L760.9,373.6"/>
<path class="l" d="M111.6,282.1C111.6,292.5 108.5,297.7 86.8,303.8L88.2,319.4"/>
<path class="l" d="M88.2,319.4C88.1,322.2 87.5,330.4 87.7,336C87.9,341.6 88.7,347.5 89.4,353.3C90.1,359.1 90.8,364.8 92,370.6C93.2,376.4 94.6,383.4 96.4,388C98.2,392.6 99.6,395.6 103,398.5C106.4,401.4 111.2,403.3 117,405.2C122.8,407.1 132.4,408.8 137.9,409.8C143.4,410.8 144.5,410.8 150,411.2C155.5,411.6 167.3,412 170.8,412.1"/>
<path class="l" d="M94.6,354C95.2,356.8 96.8,365.3 98.1,370.6C99.4,376 100.6,382.3 102.4,386.2C104.3,390.1 104.9,392.1 109.4,394C113.8,396 121.8,396.6 129.3,398C136.8,399.4 150.2,401.9 154.4,402.7"/>
<path class="l" d="M97.2,354C97.8,356.8 99.4,365.3 100.7,370.6C102,376 103.2,382.2 105,386.2C106.9,390.2 107.9,392.8 111.9,394.5C116,396.3 122.2,395.8 129.3,397C136.3,398.1 150.2,400.7 154.4,401.5L157,401.8L157,389.7C157.8,387.1 160.4,386.2 163.9,385.9L244.4,382.8"/>
<path class="l" d="M100.2,354C100.7,356.5 102.1,363.7 103.3,368.9C104.5,374.1 105.4,381.4 107.1,385.4C108.8,389.3 110,391.2 113.7,392.8C117.4,394.4 122.6,393.8 129.3,394.9C135.9,396 149.5,398.5 153.5,399.2L153.5,388.8C154.4,384.5 158.7,383.6 163.9,383.1L244.4,381.4"/>
<path class="l" d="M90.3,368.6L129.6,362.7C132,362.5 132.4,365.8 130.3,366.3L90.8,372.4C88.1,372.5 87.7,369.1 90.3,368.6Z"/>
<path class="l" d="M157,402.2L186.4,405.3L199.4,402.7"/>
<path class="l" d="M158,389.4L245,388M245.4,389.4L545,389.4M554.7,389.4L609,389.4M456.6,389.4L456.6,405.8M544.4,389.4L544.4,408M546,389.8L554.7,391.6M554.7,389.4L554.7,408.4M609,389.4L609,408.6"/>
<path class="l" d="M609,391L634,393.2M634,393.2L700,390.6L761.7,387"/>
<path class="l" d="M586.6,310.5L605.8,311.8L615.6,314.1L634.8,319.8"/>
<path class="l" d="M605.8,312.6L614.6,314.7L623.9,321.4L635.8,326L640.8,326.6"/>
<path class="l" d="M480.6,316.4L570,316.7L605.2,317.2L613.5,319.3L623.4,324.5L635.3,328.6L640.8,329.2"/>
<path class="l" d="M480.6,318.5L570,318.4L605.2,319L612,321"/>
<path class="l" d="M605.8,311.8L605.8,319.2M614.6,314.7L614.6,319.8M623.4,321.4L623.4,336.9M635.5,326L635.5,338.6"/>
<path class="l" d="M480.6,336.2L570,334.9L622.8,334.3L628,335.9L635.3,336.4L640.8,335.9"/>
<path class="l" d="M480.6,338.4L570,337.5L622.3,336.9L628,338.5L636.3,339L640.8,341.3"/>
<path class="l" d="M607.3,301.7L610,310.5M612,301.7L614.6,311.5"/>
<path class="l" d="M579.8,349.3C580.4,344.7 583.5,343.6 586.6,343.3L603.2,343.3C606.8,343.9 608.9,345.7 609.4,350.4L605.8,351.9M579.8,349.3L580.4,351.9L584,354.3M583.5,346C584.5,350.4 585.3,360.7 585.8,387.2M580.4,351.9C583,356.6 584.3,365.9 584.7,387.2M604.2,346C603.4,352.4 603,365.9 603.7,387.2M605.8,351.6C605,360.7 604.7,374.2 605.2,387.2"/>
<path class="l" d="M570,352.4L580.4,352.4M430.1,385.2L584.7,378.4"/>
<path class="l" d="M606.3,351.6L624.9,349.3L632.2,361.8L638.4,361.3C640.5,359.7 641.5,355.6 641.5,340M625.4,349.5L629.6,349.5L636.8,360.7M632.7,362.3L632.7,387.2M605.8,376.8L632.2,377.3M606.3,377.9L607.8,387.2M612.5,377.9L613.5,385.6M613.5,384.6C619.7,381.5 626,379.9 632.2,379.4M632.2,352.4L641.5,352.4"/>
<path class="l" d="M649.3,343.1L649.3,387.2M651.9,343.1L652.9,350.4L652.9,373.2L649.8,374.2M643.6,340L646.7,342.6"/>
<path class="l" d="M949.6,356.8C956.2,354.5 977.4,347.6 989.5,342.8C1001.6,338 1011.6,333.2 1022.5,328C1033.4,322.8 1049.3,314.2 1054.7,311.5"/>
<path class="l" d="M760.9,382L811,380.3L842.2,377.9L847.4,375.8"/>
<path class="l" d="M611.2,190.6L612.4,187.8M612.6,190.8L613.6,188.2"/>
</g>
<!-- DASH -->
<path class="d" style="stroke-dasharray:11.9 15.17;stroke-dashoffset:5.67" d="M245.4 187.7 H760.5 M245.4 387.6 H760.5"/>
<path class="d" style="stroke-dasharray:12.9 15.85;stroke-dashoffset:6.85" d="M245.4 187.9 V387.6 M760.5 187.9 V387.6"/>
<!-- CALLOUTS -->
<g id="callouts">
<path class="ld" d="M282 37 L378 203.5"/><path class="ah" d="M368.7 207 L386 197 L386 217Z"/>
<path class="ld" d="M472.9 40.0 L521.2 115.3"/><path class="ah" d="M504 107.2 L521.3 96.8 L521.3 116.4Z"/>
<path class="ld" d="M527.9 40.1 L564.3 91.9"/><path class="ah" d="M547.3 85.9 L563.8 75.5 L564.6 95.1Z"/>
<path class="ld" d="M583.7 39.2 L660.6 200.3"/><path class="ah" d="M651 205.9 L668.6 197.4 L666.8 216.8Z"/>
<path class="ld" d="M538.6 445.7 L612.6 236.5"/><path class="ah" d="M616.1 218.4 L620.5 237.8 L601.4 231.8Z"/>
<path class="ld" d="M724.4 443.4 L691.9 315.0"/><path class="ah" d="M687.2 299.2 L700.9 312.3 L682.2 318.2Z"/>
<path class="ld" d="M774.3 443.8 L727.0 354.0"/><path class="ah" d="M717.9 337.8 L734.6 349.5 L721.3 356.9Z"/>
<path class="ld" d="M825.8 443.9 L753.7 375.3"/><path class="ah" d="M743.7 361.9 L760.4 367.6 L748.7 381.3Z"/>
<circle class="c" cx="276.85" cy="23.70" r="19.45"/><text x="276.9" y="33.0">1</text>
<circle class="c" cx="467.60" cy="24.85" r="19.45"/><text x="467.6" y="33.8">2</text>
<circle class="c" cx="523.20" cy="25.00" r="19.45"/><text x="523.2" y="33.9">3</text>
<circle class="c" cx="578.40" cy="23.60" r="19.45"/><text x="578.4" y="33.2">4</text>
<circle class="c" cx="532.60" cy="461.10" r="19.45"/><text x="532.6" y="469.1">5</text>
<circle class="c" cx="728.10" cy="460.10" r="19.45"/><text x="728.1" y="469.0">6</text>
<circle class="c" cx="780.50" cy="460.10" r="19.45"/><text x="780.5" y="469.0">7</text>
<circle class="c" cx="831.10" cy="460.10" r="19.45"/><text x="831.1" y="469.0">8</text>
</g>
</svg>
</body></html>
